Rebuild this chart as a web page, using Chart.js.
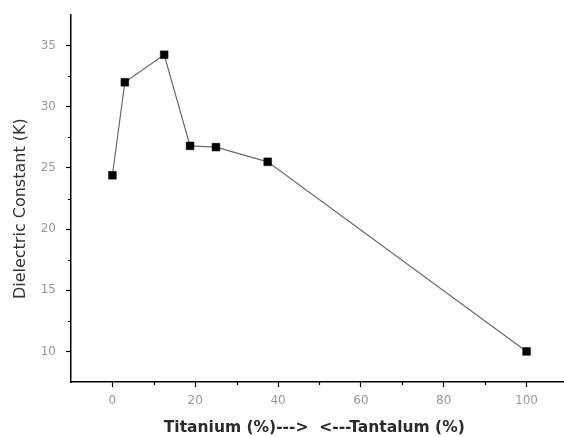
<!DOCTYPE html>
<html>
<head>
  <meta charset="utf-8" />
  <script src="https://cdn.jsdelivr.net/npm/chart.js"></script>
  <style>
    html, body { margin: 0; padding: 0; background: #fff; }
    #wrap { width: 564px; height: 437px; }
  </style>
</head>
<body>
  <div id="wrap"><canvas id="myChart" width="564" height="437"></canvas></div>
  <script>
    // 読み取った値
    const tiPercent = [0, 3, 12.5, 18.75, 25, 37.5, 100];
    const dielectric = [24.4, 32, 34.25, 26.8, 26.7, 25.5, 10];
    const xMajor = [0, 20, 40, 60, 80, 100];
    const xMinor = [10, 30, 50, 70, 90];
    const yMajor = [10, 15, 20, 25, 30, 35];
    const yMinor = [12.5, 17.5, 22.5, 27.5, 32.5];

    // 短い補助目盛り
    const minorTicks = {
      id: 'minorTicks',
      afterDraw(chart) {
        const ctx = chart.ctx;
        const xs = chart.scales.x, ys = chart.scales.y;
        ctx.save();
        ctx.strokeStyle = '#000';
        ctx.lineWidth = 1.2;
        ctx.beginPath();
        xMinor.forEach(v => {
          const px = Math.round(xs.getPixelForValue(v)) + 0.5;
          ctx.moveTo(px, ys.bottom);
          ctx.lineTo(px, ys.bottom + 3);
        });
        yMinor.forEach(v => {
          const py = Math.round(ys.getPixelForValue(v)) + 0.5;
          ctx.moveTo(xs.left, py);
          ctx.lineTo(xs.left - 3, py);
        });
        ctx.stroke();
        ctx.restore();
      }
    };

    const ctx = document.getElementById('myChart').getContext('2d');
    const chart = new Chart(ctx, {
      type: 'line',
      data: {
        datasets: [{
          data: tiPercent.map((x, i) => ({ x: x, y: dielectric[i] })),
          borderColor: '#6a6a6a',
          borderWidth: 1.2,
          pointStyle: 'rect',
          pointRadius: 5.5,
          pointBackgroundColor: '#000',
          pointBorderColor: '#000',
          pointBorderWidth: 0.5,
          tension: 0
        }]
      },
      options: {
        responsive: false,
        animation: false,
        layout: { autoPadding: false, padding: { top: 15, right: 1, left: 0, bottom: 0 } },
        plugins: { legend: { display: false }, tooltip: { enabled: false } },
        scales: {
          x: {
            type: 'linear',
            min: -10,
            max: 108.8,
            afterBuildTicks: s => { s.ticks = xMajor.map(v => ({ value: v })); },
            afterFit: s => { s.height = 55; s.paddingLeft = 0; s.paddingRight = 0; },
            border: { color: '#000', width: 1.5 },
            grid: { drawOnChartArea: false, tickLength: 5, tickColor: '#000', tickWidth: 1.2 },
            ticks: {
              color: '#999',
              padding: 7,
              font: { family: 'DejaVu Sans, Verdana, sans-serif', size: 12 }
            },
            title: {
              display: true,
              text: 'Titanium (%)--->  <---Tantalum (%) ',
              color: '#2a2a2a',
              padding: { top: 4, bottom: 0 },
              font: { family: 'DejaVu Sans, Verdana, sans-serif', size: 15.5, weight: 'bold' }
            }
          },
          y: {
            type: 'linear',
            min: 7.5,
            max: 37.5,
            afterBuildTicks: s => { s.ticks = yMajor.map(v => ({ value: v })); },
            afterFit: s => { s.width = 71; s.paddingTop = 0; s.paddingBottom = 0; },
            border: { color: '#000', width: 1.5 },
            grid: { drawOnChartArea: false, tickLength: 5, tickColor: '#000', tickWidth: 1.2 },
            ticks: {
              color: '#999',
              padding: 10,
              font: { family: 'DejaVu Sans, Verdana, sans-serif', size: 12 }
            },
            title: {
              display: true,
              text: 'Dielectric Constant (K)    ',
              color: '#333',
              padding: { top: 11, bottom: 0 },
              font: { family: 'DejaVu Sans, Verdana, sans-serif', size: 16 }
            }
          }
        }
      },
      plugins: [minorTicks]
    });
  </script>
</body>
</html>
